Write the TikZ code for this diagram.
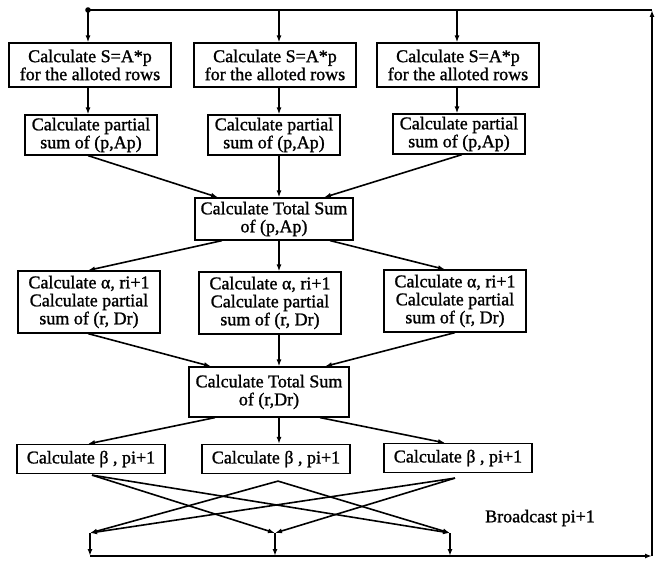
\documentclass[tikz,border=0pt]{standalone}
\usepackage{fontspec}
\setmainfont{Liberation Serif}[AutoFakeBold=1.2]
\usetikzlibrary{arrows.meta}
\begin{document}
\begin{tikzpicture}[x=1pt,y=-1pt,
  txt/.style={font=\fontsize{18}{18}\selectfont\bfseries},
  box/.style={draw, line width=1.2pt, align=center, inner sep=0pt, txt},
  rowone/.style={box, minimum width=162pt, minimum height=44pt},
  partbox/.style={box, minimum width=132pt, minimum height=40pt},
  totbox/.style={box, minimum width=158pt, minimum height=42pt},
  alphabox/.style={box, minimum width=142pt, minimum height=62pt},
  betabox/.style={box, minimum width=148pt, minimum height=29pt},
  arr/.style={line width=1.6pt, -{Latex[length=7pt,width=5pt]}},
  ln/.style={line width=1.6pt}]
\useasboundingbox (0,0) rectangle (656,564);
% feedback frame
\coordinate (tl) at (88,10);
\coordinate (a2) at (279,10);
\coordinate (a3) at (457,10);
\coordinate (tr) at (652,10);
\coordinate (br) at (652,556);
\coordinate (c1) at (90,533);
\coordinate (c2) at (275,533);
\coordinate (c3) at (450,533);
\coordinate (d1) at (90,556);
\coordinate (d2) at (275,556);
\coordinate (d3) at (450,556);
% row 1
\node[rowone] (s1) at (90,65) {Calculate S=A*p\\for the alloted rows};
\node[rowone] (s2) at (275,65) {Calculate S=A*p\\for the alloted rows};
\node[rowone] (s3) at (458,65) {Calculate S=A*p\\for the alloted rows};
% row 2
\node[partbox] (p1) at (91,135) {Calculate partial\\sum of (p,Ap)};
\node[partbox] (p2) at (274,135) {Calculate partial\\sum of (p,Ap)};
\node[partbox] (p3) at (459,134) {Calculate partial\\sum of (p,Ap)};
% total 1
\node[totbox] (t1) at (274,219) {Calculate Total Sum\\of (p,Ap)};
% row 3
\node[alphabox] (q1) at (89,302) {Calculate α, ri+1\\Calculate partial\\sum of (r, Dr)};
\node[alphabox] (q2) at (270,303) {Calculate α, ri+1\\Calculate partial\\sum of (r, Dr)};
\node[alphabox] (q3) at (455,301) {Calculate α, ri+1\\Calculate partial\\sum of (r, Dr)};
% total 2
\node[totbox, minimum width=160pt, minimum height=50pt] (t2) at (269,392) {Calculate Total Sum\\of (r,Dr)};
% row 4
\node[betabox] (b1) at (91,459) {Calculate β , pi+1};
\node[betabox] (b2) at (276,459) {Calculate β , pi+1};
\node[betabox] (b3) at (458,458) {Calculate β , pi+1};
\node[txt] (bc) at (540,518) {Broadcast pi+1};
% frame lines
\fill (tl) circle (2.8pt);
\draw[ln] (tr) -- (tl);
\draw[arr] (d1) -- (br);
\draw[arr] (br) -- (tr);
% top arrows
\draw[arr] (tl) -- (s1.north -| tl);
\draw[arr] (a2) -- (s2.north -| a2);
\draw[arr] (a3) -- (s3.north -| a3);
% row1 to row2
\draw[arr] (s1.south -| tl) -- (p1.north -| tl);
\draw[arr] (s2.south -| a2) -- (p2.north -| a2);
\draw[arr] (s3.south -| a3) -- (p3.north -| a3);
% row2 to total1
\draw[arr] (p1.south -| tl) -- ([xshift=-56pt]t1.north);
\draw[arr] (p2.south -| a2) -- (t1.north -| a2);
\draw[arr] ([xshift=3pt]p3.south) -- ([xshift=50pt]t1.north);
% total1 to row3
\draw[arr] ([xshift=-52pt]t1.south) -- (q1.north -| tl);
\draw[arr] (t1.south -| a2) -- (q2.north -| a2);
\draw[arr] ([xshift=56pt]t1.south) -- ([xshift=-10pt]q3.north);
% row3 to total2
\draw[arr] (q1.south -| tl) -- ([xshift=-58pt]t2.north);
\draw[arr] (q2.south -| a2) -- (t2.north -| a2);
\draw[arr] (q3.south) -- ([xshift=56pt]t2.north);
% total2 to row4
\draw[arr] ([xshift=-54pt]t2.south) -- ([xshift=-3pt]b1.north);
\draw[arr] (t2.south -| a2) -- (b2.north -| a2);
\draw[arr] ([xshift=51pt]t2.south) -- ([xshift=-13pt]b3.north);
% broadcast crossing
\draw[arr] ([xshift=1pt,yshift=-1pt]b1.south) -- (c2);
\draw[arr] ([xshift=1pt,yshift=-1pt]b1.south) -- (c3);
\draw[arr] ([xshift=2pt,yshift=-7pt]b2.south) -- (c1);
\draw[arr] ([xshift=2pt,yshift=-7pt]b2.south) -- (c3);
\draw[arr] ([xshift=-3pt,yshift=-5pt]b3.south) -- (c1);
\draw[arr] ([xshift=-3pt,yshift=-5pt]b3.south) -- (c2);
\draw[arr] (c1) -- (d1);
\draw[arr] (c2) -- (d2);
\draw[arr] (c3) -- (d3);
\end{tikzpicture}
\end{document}
